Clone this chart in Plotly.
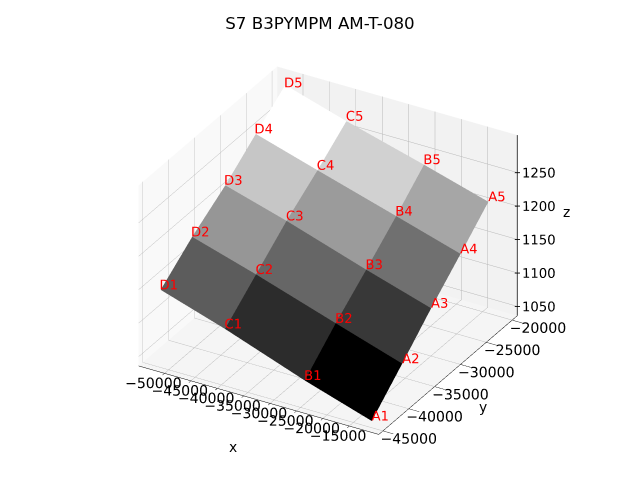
import plotly.graph_objects as go

rows = ["A", "B", "C", "D"]
cols = ["1", "2", "3", "4", "5"]
x_grid = [
    [-12300, -12600, -12900, -13300, -14100],
    [-25000, -25200, -25200, -25500, -26300],
    [-40100, -40300, -40300, -40400, -41000],
    [-52300, -52400, -51900, -52100, -52600],
]
y_col = [-44200, -38000, -32100, -26000, -19800]
z_grid = [
    [1039, 1083, 1126, 1166, 1201],
    [1071, 1115, 1156, 1195, 1229],
    [1114, 1154, 1195, 1230, 1261],
    [1145, 1183, 1222, 1258, 1289],
]
face_grey = [
    [0, 56, 112, 166],
    [44, 102, 155, 209],
    [92, 150, 198, 255],
]
xticks = [-50000, -45000, -40000, -35000, -30000, -25000, -20000, -15000]
yticks = [-45000, -40000, -35000, -30000, -25000, -20000]
zticks = [1050, 1100, 1150, 1200, 1250]
xrange_ = [-54900, -9400]
yrange_ = [-45800, -19000]
zrange_ = [1036, 1306]

X, Y, Z, I, J, K, FC = [], [], [], [], [], [], []
for r in range(4):
    X += x_grid[r]; Y += y_col; Z += z_grid[r]
for r in range(3):
    for c in range(4):
        a = r * 5 + c; b = a + 1; d = a + 5; e = d + 1
        g = face_grey[r][c]
        I += [a, a]; J += [b, e]; K += [e, d]
        FC += [f"rgb({g},{g},{g})"] * 2

labels = [rows[r] + cols[c] for r in range(4) for c in range(5)]

# Lift the labels towards the camera so the surface does not hide them,
# then nudge them right and up so each one starts at its corner.
# Labels stay inside the axis ranges, otherwise the scene clips them.
LX = [v + 1365 + 1130 for v in X]
LY = [v - 1390 + 384 for v in Y]
LZ = [min(v + 12.4 + 8, zrange_[1] - 1) for v in Z]

def ax(ticks, rng, bg, show_ticks=True, ticklen=4):
    return dict(title=dict(text=""),
                tickvals=ticks, ticktext=[str(t).replace("-", "\u2212") for t in ticks],
                tickangle=0, range=rng, backgroundcolor=bg, showbackground=True,
                gridcolor="#b8b8b8", gridwidth=1, showline=show_ticks, linecolor="black",
                linewidth=1, ticks="outside" if show_ticks else "", ticklen=ticklen,
                tickcolor="black", showticklabels=show_ticks,
                tickfont=dict(size=13, color="black"),
                zeroline=False, showspikes=False)

fig = go.Figure()
fig.add_trace(go.Mesh3d(x=X, y=Y, z=Z, i=I, j=J, k=K, facecolor=FC, flatshading=True,
                        lighting=dict(ambient=1, diffuse=0, specular=0, fresnel=0),
                        hoverinfo="skip"))
fig.add_trace(go.Scatter3d(x=LX, y=LY, z=LZ, mode="text", text=labels,
                           textposition="middle center",
                           textfont=dict(color="red", size=13.2), hoverinfo="skip"))
# z axis on the right-hand edge, where matplotlib puts it
fig.add_trace(go.Scatter3d(x=[xrange_[1]] * 2, y=[yrange_[1]] * 2, z=zrange_, mode="lines",
                           line=dict(color="black", width=1.5), hoverinfo="skip"))
n = len(zticks)
fig.add_trace(go.Scatter3d(x=[xrange_[1]] * n, y=[yrange_[1]] * n, z=zticks, mode="text",
                           text=["\u2013"] * n, textposition="middle center",
                           textfont=dict(color="black", size=13.2), hoverinfo="skip"))
fig.add_trace(go.Scatter3d(x=[xrange_[1] - 1000] * n, y=[yrange_[1] - 340] * n, z=zticks, mode="text",
                           text=[str(t) for t in zticks],
                           textposition="middle right",
                           textfont=dict(color="black", size=13.2), hoverinfo="skip"))
PAGE_OFFSET = 8  # the page body's own margin, in pixels
fig.update_layout(
    width=640, height=480, showlegend=False, paper_bgcolor="white",
    margin=dict(l=0, r=0, t=0, b=0),
    font=dict(family="DejaVu Sans"),
    title=dict(text="S7 B3PYMPM AM-T-080", x=(320 - PAGE_OFFSET) / 640, xanchor="center",
               y=1 - (23 - PAGE_OFFSET) / 480, yanchor="middle",
               font=dict(size=16.7, color="black")),
    annotations=[
        dict(text=t, x=(px - PAGE_OFFSET) / 640, y=1 - (py - PAGE_OFFSET) / 480,
             xref="paper", yref="paper", showarrow=False,
             xanchor="center", yanchor="middle", font=dict(size=13.9, color="black"))
        for t, px, py in [("x", 233, 447), ("y", 483, 407), ("z", 566, 212)]
    ],
    scene=dict(
        domain=dict(x=[0, 1], y=[0, 1]),
        aspectmode="manual",
        aspectratio=dict(x=1.155, y=1.155, z=0.866),
        xaxis=ax(xticks, xrange_, "#f9f9f9", ticklen=12),
        yaxis=ax(yticks, yrange_, "#f2f2f2", ticklen=4),
        zaxis=ax(zticks, zrange_, "#f5f5f5", show_ticks=False),
        camera=dict(eye=dict(x=0.75, y=-1.3, z=0.866), center=dict(x=0, y=0, z=0.012),
                    up=dict(x=0, y=0, z=1), projection=dict(type="orthographic")),
    ),
)
fig.write_html("out.html")
